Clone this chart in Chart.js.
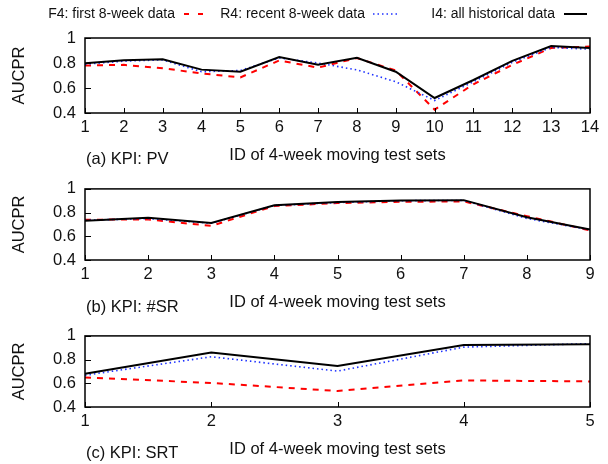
<!DOCTYPE html>
<html>
<head>
  <meta charset="UTF-8">
  <title>AUCPR of F4 / R4 / I4</title>
  <script src="https://cdn.jsdelivr.net/npm/chart.js"></script>
  <style>
    body {
      margin: 0;
      background: #fff;
    }
    .wrap {
      position: relative;
      width: 608px;
      height: 464px;
    }
    canvas {
      position: absolute;
      left: 0;
    }
    #c1 { top: 0; }
    #c2 { top: 170px; }
    #c3 { top: 317px; }
  </style>
</head>
<body>
  <div class="wrap">
    <canvas id="c1" width="608" height="170"></canvas>
    <canvas id="c2" width="608" height="147"></canvas>
    <canvas id="c3" width="608" height="147"></canvas>
  </div>

  <script>
    // data
    const idsPV = ['1', '2', '3', '4', '5', '6', '7', '8', '9', '10', '11', '12', '13', '14'];
    const pvFirst  = [0.78, 0.785, 0.758, 0.717, 0.685, 0.82, 0.763, 0.84, 0.74, 0.427, 0.63, 0.785, 0.92, 0.932];
    const pvRecent = [0.79, 0.815, 0.825, 0.73, 0.74, 0.84, 0.80, 0.745, 0.65, 0.50, 0.65, 0.805, 0.925, 0.91];
    const pvAll    = [0.798, 0.822, 0.83, 0.747, 0.73, 0.847, 0.787, 0.841, 0.73, 0.52, 0.664, 0.817, 0.935, 0.92];

    const idsSR = ['1', '2', '3', '4', '5', '6', '7', '8', '9'];
    const srFirst  = [0.74, 0.742, 0.688, 0.856, 0.88, 0.891, 0.894, 0.77, 0.65];
    const srRecent = [0.735, 0.75, 0.71, 0.86, 0.885, 0.90, 0.903, 0.75, 0.655];
    const srAll    = [0.731, 0.756, 0.712, 0.862, 0.889, 0.902, 0.905, 0.761, 0.658];

    const idsSRT = ['1', '2', '3', '4', '5'];
    const srtFirst  = [0.649, 0.603, 0.535, 0.624, 0.616];
    const srtRecent = [0.668, 0.824, 0.703, 0.905, 0.935];
    const srtAll    = [0.681, 0.859, 0.746, 0.924, 0.93];

    const yTicks = [0.4, 0.6, 0.8, 1];

    const FONT = "'Liberation Sans', Arial, sans-serif";
    const RED = 'rgb(255,0,0)';
    const BLUE = 'rgb(30,50,255)';
    const BLACK = '#000';

    Chart.defaults.font.family = FONT;
    Chart.defaults.color = '#111';

    // gnuplot style frame with inward ticks + caption
    const framePlugin = {
      id: 'frame',
      afterDraw(chart, args, opts) {
        const { ctx, chartArea: a, scales } = chart;
        ctx.save();
        ctx.strokeStyle = '#000';
        ctx.lineWidth = 1.5;
        ctx.strokeRect(a.left, a.top, a.right - a.left, a.bottom - a.top);
        ctx.lineWidth = 1;
        ctx.beginPath();
        scales.x.ticks.forEach((t, i) => {
          const px = Math.round(scales.x.getPixelForTick(i)) + 0.5;
          ctx.moveTo(px, a.bottom);
          ctx.lineTo(px, a.bottom - 5);
        });
        yTicks.forEach(v => {
          const py = Math.round(scales.y.getPixelForValue(v)) + 0.5;
          ctx.moveTo(a.left, py);
          ctx.lineTo(a.left + 6, py);
        });
        ctx.stroke();

        ctx.fillStyle = '#111';
        ctx.font = '16.5px ' + FONT;
        ctx.textBaseline = 'middle';
        ctx.textAlign = 'left';
        ctx.fillText(opts.caption, a.left + 1, a.bottom + opts.captionGap);
        ctx.restore();
      }
    };

    // key: text first, then line sample (like gnuplot)
    const keyPlugin = {
      id: 'key',
      afterDraw(chart, args, opts) {
        if (!opts.show) return;
        const ctx = chart.ctx;
        const items = [
          { text: 'F4: first 8-week data', right: 175, x0: 184, x1: 203, color: RED, width: 2, dash: [5, 9] },
          { text: 'R4: recent 8-week data', right: 365, x0: 373, x1: 398, color: BLUE, width: 1.5, dash: [1.5, 3] },
          { text: 'I4: all historical data', right: 555, x0: 564, x1: 587, color: BLACK, width: 2, dash: [] }
        ];
        const y = 14;
        ctx.save();
        ctx.font = '14px ' + FONT;
        ctx.fillStyle = '#111';
        ctx.textAlign = 'right';
        ctx.textBaseline = 'middle';
        items.forEach(it => {
          ctx.fillText(it.text, it.right, y);
          ctx.beginPath();
          ctx.strokeStyle = it.color;
          ctx.lineWidth = it.width;
          ctx.setLineDash(it.dash);
          ctx.moveTo(it.x0, y);
          ctx.lineTo(it.x1, y);
          ctx.stroke();
        });
        ctx.restore();
      }
    };

    function makePanel(id, labels, first, recent, all, caption, padTop, captionGap, showKey) {
      const ctx = document.getElementById(id).getContext('2d');
      return new Chart(ctx, {
        type: 'line',
        data: {
          labels: labels,
          datasets: [
            { label: 'I4: all historical data', data: all, borderColor: BLACK, borderWidth: 2 },
            { label: 'R4: recent 8-week data', data: recent, borderColor: BLUE, borderWidth: 1.6, borderDash: [1.5, 3] },
            { label: 'F4: first 8-week data', data: first, borderColor: RED, borderWidth: 2, borderDash: [6, 6] }
          ]
        },
        options: {
          responsive: false,
          animation: false,
          devicePixelRatio: 1,
          layout: { padding: { top: padTop, bottom: 5, left: 10, right: 18 } },
          elements: {
            point: { radius: 0 },
            line: { tension: 0, borderCapStyle: 'butt' }
          },
          plugins: {
            legend: { display: false },
            tooltip: { enabled: false },
            frame: { caption: caption, captionGap: captionGap },
            key: { show: showKey }
          },
          scales: {
            x: {
              type: 'category',
              offset: false,
              grid: { display: false, drawTicks: false },
              border: { display: false },
              ticks: { autoSkip: false, maxRotation: 0, padding: 5, font: { size: 16.5 }, color: '#111' },
              title: {
                display: true,
                text: 'ID of 4-week moving test sets',
                font: { size: 16.5 },
                color: '#111',
                padding: { top: 0, bottom: 0 }
              },
              afterFit(scale) { scale.height = 52; }
            },
            y: {
              min: 0.4,
              max: 1,
              grid: { display: false, drawTicks: false },
              border: { display: false },
              afterBuildTicks(scale) { scale.ticks = yTicks.map(v => ({ value: v })); },
              ticks: {
                padding: 9,
                font: { size: 16.5 },
                color: '#111',
                callback: v => String(Math.round(v * 10) / 10)
              },
              title: {
                display: true,
                text: 'AUCPR',
                font: { size: 16.5 },
                color: '#111',
                padding: { top: 0, bottom: 0 }
              },
              afterFit(scale) { scale.width = 75; }
            }
          }
        },
        plugins: [framePlugin, keyPlugin]
      });
    }

    makePanel('c1', idsPV, pvFirst, pvRecent, pvAll, '(a) KPI: PV', 38, 46, true);
    makePanel('c2', idsSR, srFirst, srRecent, srAll, '(b) KPI: #SR', 15, 47, false);
    makePanel('c3', idsSRT, srtFirst, srtRecent, srtAll, '(c) KPI: SRT', 15, 46, false);
  </script>
</body>
</html>
